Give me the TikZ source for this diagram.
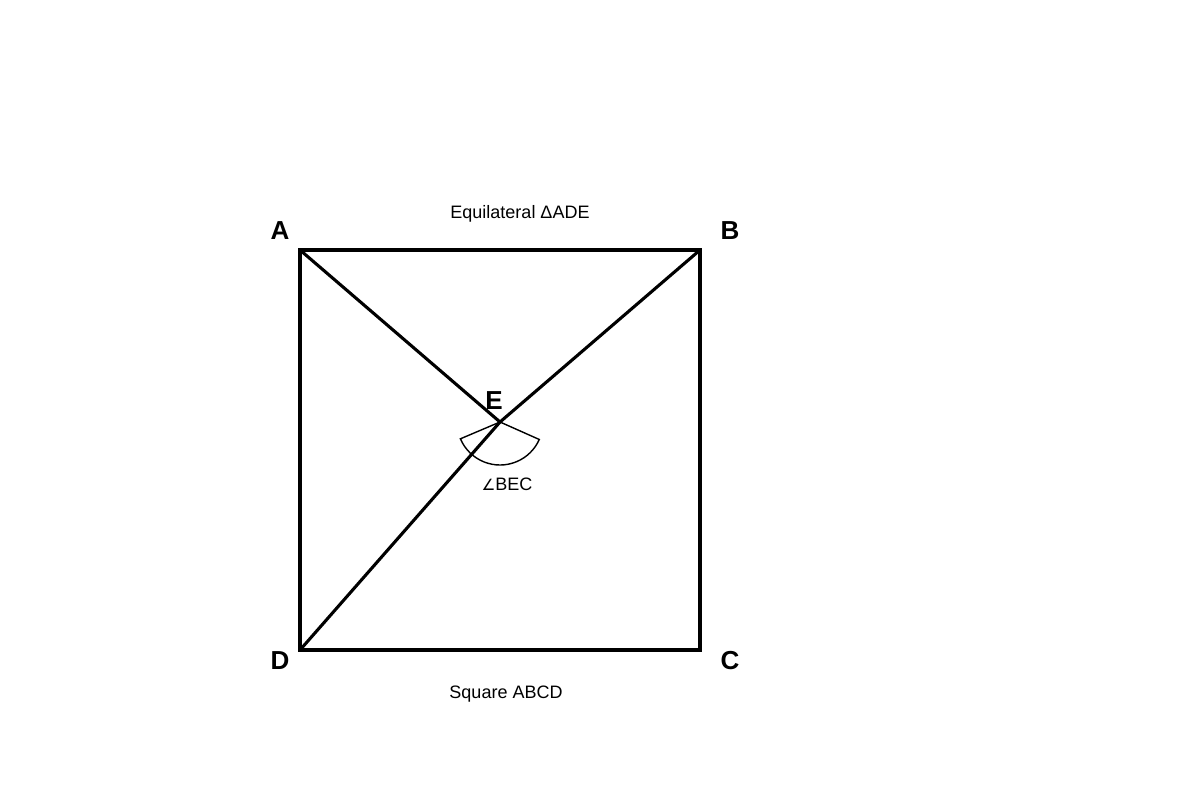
\documentclass[tikz,border=0pt]{standalone}
\usepackage{fontspec}
\setmainfont{Liberation Sans}
\newfontfamily\symfont{DejaVu Sans}

\begin{document}
\begin{tikzpicture}[x=0.025cm, y=-0.025cm]
\useasboundingbox (0,0) rectangle (1200,800);
\tikzset{corner/.style={font=\fontsize{18.5}{22}\selectfont\bfseries},
         caption/.style={font=\fontsize{12.8}{15}\selectfont}}

\coordinate (A) at (300,250);
\coordinate (B) at (700,250);
\coordinate (C) at (700,650);
\coordinate (D) at (300,650);
\coordinate (E) at (500,422);

\node (A-1) at (280,231) [corner]{A};
\node (B-1) at (730,231) [corner]{B};
\node (C-1) at (730,661) [corner]{C};
\node (D-1) at (280,661) [corner]{D};
\node (E-1) at (494,401) [corner]{E};

\node (T-1) at (520,214) [caption]{Equilateral ΔADE};
\node (T-2) at (506,694) [caption]{Square ABCD};
\node (T-3) at (507,484) [caption]{{\symfont\fontsize{11}{13}\selectfont∠}BEC};

\draw [line width=2.2pt, line join=miter] (A) -- (B) -- (C) -- (D) -- cycle;
\draw [line width=2.2pt] (A) -- (E);
\draw [line width=2.2pt] (B) -- (E) -- (D);

\draw [line width=1pt] (E) -- ++(157:43) arc[start angle=157, end angle=24, radius=43] -- cycle;

\end{tikzpicture}
\end{document}
